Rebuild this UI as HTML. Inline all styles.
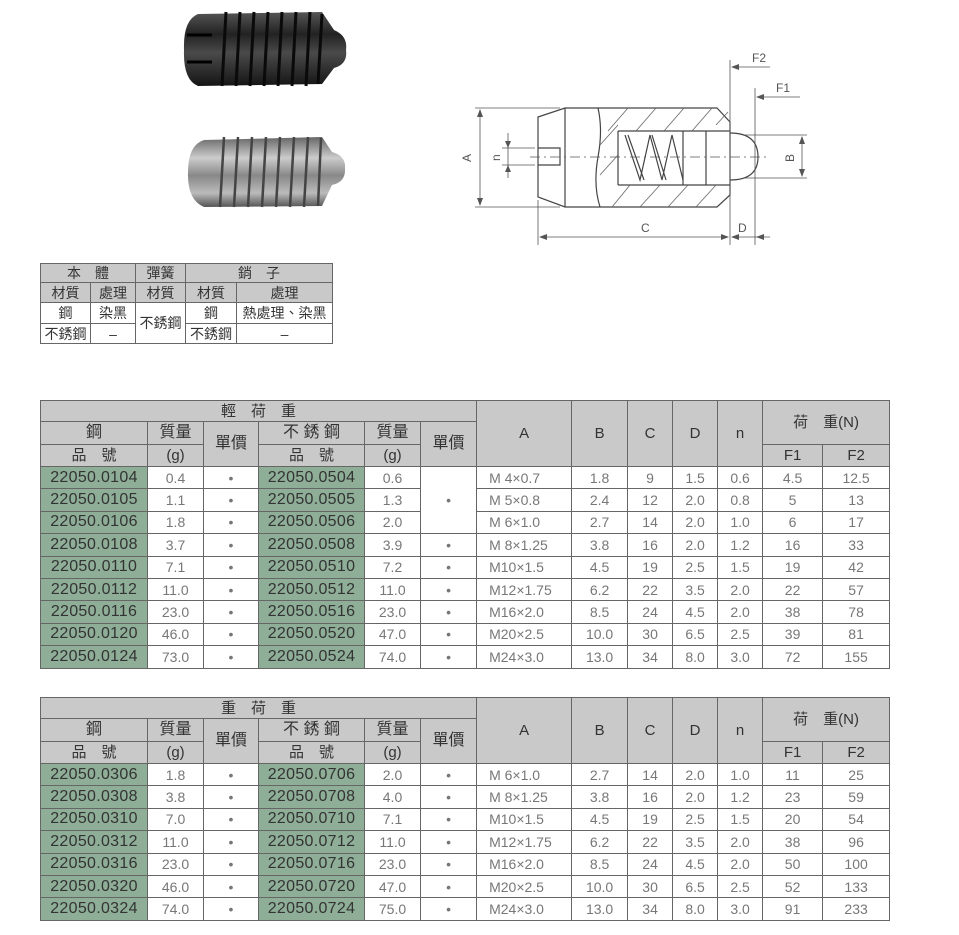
<!DOCTYPE html>
<html><head><meta charset="utf-8"><style>
body{margin:0;background:#fff;width:959px;height:935px;position:relative;overflow:hidden;font-family:"Liberation Sans","Noto Sans CJK TC",sans-serif}
table{border-collapse:collapse;table-layout:fixed;position:absolute}
td{border:1px solid #666;padding:0;text-align:center;white-space:nowrap;overflow:hidden;line-height:1}
.h td{background:#c9c9c9;color:#333}
tr.d{height:22.4px}
.d td{font-size:14px;color:#777}
.d td.g{background:#8fae98;color:#333;font-size:16px;letter-spacing:0.3px}
.m td{font-size:14px;color:#333}
.d td.l{text-align:left;padding-left:12px}
</style></head><body>

<svg style="position:absolute;left:0;top:0" width="959" height="260">
<defs>
<linearGradient id="bk" x1="0" y1="0" x2="0" y2="1"><stop offset="0" stop-color="#555"/><stop offset=".3" stop-color="#222"/><stop offset=".55" stop-color="#4a4a4a"/><stop offset="1" stop-color="#151515"/></linearGradient>
<linearGradient id="sv" x1="0" y1="0" x2="0" y2="1"><stop offset="0" stop-color="#666"/><stop offset=".3" stop-color="#ccc"/><stop offset=".55" stop-color="#888"/><stop offset=".8" stop-color="#bbb"/><stop offset="1" stop-color="#555"/></linearGradient>
</defs>
<path d="M198 14 L322 12 L334 30 Q348 36 346 50 Q348 64 334 68 L322 84 L198 86 Q183 80 184 50 Q183 20 198 14Z" fill="url(#bk)"/>
<g stroke="#0a0a0a" stroke-width="3">
<line x1="226" y1="12" x2="222" y2="86"/><line x1="240" y1="12" x2="236" y2="86"/><line x1="254" y1="12" x2="250" y2="86"/><line x1="268" y1="12" x2="264" y2="86"/><line x1="282" y1="12" x2="278" y2="86"/><line x1="296" y1="12" x2="292" y2="86"/><line x1="310" y1="12" x2="306" y2="86"/><line x1="322" y1="14" x2="318" y2="84"/></g>
<line x1="187" y1="35" x2="212" y2="35" stroke="#000" stroke-width="3"/><line x1="187" y1="62" x2="212" y2="62" stroke="#000" stroke-width="3"/>
<path d="M204 140 L322 137 L332 152 Q346 156 345 168 Q346 182 332 185 L322 206 L204 207 Q187 200 188 172 Q188 145 204 140Z" fill="url(#sv)"/>
<g stroke="#444" stroke-width="2.5">
<line x1="224" y1="137" x2="220" y2="207"/><line x1="238" y1="137" x2="234" y2="207"/><line x1="252" y1="137" x2="248" y2="207"/><line x1="266" y1="137" x2="262" y2="207"/><line x1="280" y1="137" x2="276" y2="207"/><line x1="294" y1="137" x2="290" y2="207"/><line x1="308" y1="137" x2="304" y2="207"/><line x1="321" y1="138" x2="318" y2="206"/></g>

<g fill="none" stroke="#444" stroke-width="1.2">
<path d="M538 117 L565 108 L717 108 L730 122 L730 195 L717 207 L565 207 L538 197 Z"/>
<line x1="565" y1="108" x2="565" y2="207"/>
<path d="M538 148 L560 148 L560 165 L538 165"/>
<path d="M598 108 Q603 130 598 157 Q593 185 600 207"/>
<path d="M618 131 L730 131 M618 185 L730 185 M618 131 L618 185"/>
<path d="M683 131 L683 185 M706 131 L706 185"/>
<path d="M730 133 Q758 133 758 157 Q758 180 730 180"/>
<path d="M625 135 L640 180 L650 135 L662 180 L672 135 L683 180 M628 135 L644 180 M652 135 L666 180"/>
</g>
<g stroke="#666" stroke-width="0.8">
<line x1="612" y1="207" x2="630" y2="185"/><line x1="640" y1="207" x2="660" y2="185"/><line x1="668" y1="207" x2="688" y2="185"/><line x1="696" y1="207" x2="716" y2="185"/>
<line x1="608" y1="131" x2="628" y2="108"/><line x1="636" y1="131" x2="656" y2="108"/><line x1="664" y1="131" x2="684" y2="108"/><line x1="692" y1="131" x2="712" y2="108"/><line x1="716" y1="125" x2="728" y2="112"/>
<line x1="600" y1="175" x2="618" y2="155"/><line x1="600" y1="145" x2="618" y2="125"/>
</g>
<line x1="530" y1="157" x2="770" y2="157" stroke="#555" stroke-width="0.8" stroke-dasharray="10,4,2,4"/>
<g stroke="#555" stroke-width="0.8" fill="none">
<line x1="475" y1="108" x2="560" y2="108"/><line x1="475" y1="207" x2="560" y2="207"/>
<line x1="480" y1="110" x2="480" y2="205"/>
<line x1="502" y1="148" x2="535" y2="148"/><line x1="502" y1="165" x2="535" y2="165"/>
<line x1="508" y1="133" x2="508" y2="178"/>
<line x1="538" y1="200" x2="538" y2="245"/><line x1="730" y1="60" x2="730" y2="245"/><line x1="755" y1="88" x2="755" y2="245"/>
<line x1="540" y1="237" x2="728" y2="237"/><line x1="732" y1="237" x2="770" y2="237"/>
<line x1="732" y1="67" x2="770" y2="67"/><line x1="757" y1="97" x2="800" y2="97"/>
<line x1="745" y1="135" x2="807" y2="135"/><line x1="745" y1="178" x2="807" y2="178"/>
<line x1="802" y1="137" x2="802" y2="176"/>
</g>
<g fill="#555">
<path d="M480 109 l-3 8 h6z"/><path d="M480 206 l-3 -8 h6z"/>
<path d="M508 148 l-3 -7 h6z"/><path d="M508 165 l-3 7 h6z"/>
<path d="M539 237 l8 -3 v6z"/><path d="M729 237 l-8 -3 v6z"/><path d="M731 237 l8 -3 v6z"/><path d="M756 237 l8 -3 v6z"/>
<path d="M731 67 l8 -3 v6z"/><path d="M756 97 l8 -3 v6z"/>
<path d="M802 136 l-3 8 h6z"/><path d="M802 177 l-3 -8 h6z"/>
</g>
<g font-size="12" fill="#555" font-family="Liberation Sans">
<text x="641" y="232">C</text><text x="738" y="232">D</text>
<text x="752" y="62">F2</text><text x="776" y="92">F1</text>
<text transform="translate(471,162) rotate(-90)">A</text>
<text transform="translate(500,161) rotate(-90)">n</text>
<text transform="translate(794,162) rotate(-90)">B</text>
</g>
</svg>

<table class="m" style="left:40px;top:263px;width:292px;border:1.5px solid #555">
<col style="width:50px"><col style="width:45px"><col style="width:50px"><col style="width:51px"><col style="width:96px">
<tr class="h" style="height:19px"><td colspan="2">本　體</td><td>彈簧</td><td colspan="2">銷　子</td></tr>
<tr class="h" style="height:20px"><td>材質</td><td>處理</td><td>材質</td><td>材質</td><td>處理</td></tr>
<tr style="height:21px"><td>鋼</td><td>染黑</td><td rowspan="2">不銹鋼</td><td>鋼</td><td>熱處理、染黑</td></tr>
<tr style="height:20px"><td>不銹鋼</td><td>–</td><td>不銹鋼</td><td>–</td></tr>
</table>

<table style="left:40px;top:400px;width:849px;border:1.5px solid #555">
<col style="width:107px"><col style="width:56px"><col style="width:55px"><col style="width:106px"><col style="width:56px"><col style="width:56px"><col style="width:95px"><col style="width:56px"><col style="width:45px"><col style="width:45px"><col style="width:45px"><col style="width:60px"><col style="width:67px">
<tr class="h" style="height:21px;font-size:15px"><td colspan="6">輕　荷　重</td><td rowspan="3" style="font-size:15px">A</td><td rowspan="3">B</td><td rowspan="3">C</td><td rowspan="3">D</td><td rowspan="3">n</td><td colspan="2" rowspan="2">荷　重(N)</td></tr>
<tr class="h" style="height:23px;font-size:16px"><td>鋼</td><td>質量</td><td rowspan="2">單價</td><td>不 銹 鋼</td><td>質量</td><td rowspan="2">單價</td></tr>
<tr class="h" style="height:22px;font-size:15px"><td>品　號</td><td>(g)</td><td>品　號</td><td>(g)</td><td>F1</td><td>F2</td></tr>
<tr class="d"><td class="g">22050.0104</td><td>0.4</td><td>•</td><td class="g">22050.0504</td><td>0.6</td><td rowspan="3">•</td><td class="l">M 4×0.7</td><td>1.8</td><td>9</td><td>1.5</td><td>0.6</td><td>4.5</td><td>12.5</td></tr>
<tr class="d"><td class="g">22050.0105</td><td>1.1</td><td>•</td><td class="g">22050.0505</td><td>1.3</td><td class="l">M 5×0.8</td><td>2.4</td><td>12</td><td>2.0</td><td>0.8</td><td>5</td><td>13</td></tr>
<tr class="d"><td class="g">22050.0106</td><td>1.8</td><td>•</td><td class="g">22050.0506</td><td>2.0</td><td class="l">M 6×1.0</td><td>2.7</td><td>14</td><td>2.0</td><td>1.0</td><td>6</td><td>17</td></tr>
<tr class="d"><td class="g">22050.0108</td><td>3.7</td><td>•</td><td class="g">22050.0508</td><td>3.9</td><td>•</td><td class="l">M 8×1.25</td><td>3.8</td><td>16</td><td>2.0</td><td>1.2</td><td>16</td><td>33</td></tr>
<tr class="d"><td class="g">22050.0110</td><td>7.1</td><td>•</td><td class="g">22050.0510</td><td>7.2</td><td>•</td><td class="l">M10×1.5</td><td>4.5</td><td>19</td><td>2.5</td><td>1.5</td><td>19</td><td>42</td></tr>
<tr class="d"><td class="g">22050.0112</td><td>11.0</td><td>•</td><td class="g">22050.0512</td><td>11.0</td><td>•</td><td class="l">M12×1.75</td><td>6.2</td><td>22</td><td>3.5</td><td>2.0</td><td>22</td><td>57</td></tr>
<tr class="d"><td class="g">22050.0116</td><td>23.0</td><td>•</td><td class="g">22050.0516</td><td>23.0</td><td>•</td><td class="l">M16×2.0</td><td>8.5</td><td>24</td><td>4.5</td><td>2.0</td><td>38</td><td>78</td></tr>
<tr class="d"><td class="g">22050.0120</td><td>46.0</td><td>•</td><td class="g">22050.0520</td><td>47.0</td><td>•</td><td class="l">M20×2.5</td><td>10.0</td><td>30</td><td>6.5</td><td>2.5</td><td>39</td><td>81</td></tr>
<tr class="d"><td class="g">22050.0124</td><td>73.0</td><td>•</td><td class="g">22050.0524</td><td>74.0</td><td>•</td><td class="l">M24×3.0</td><td>13.0</td><td>34</td><td>8.0</td><td>3.0</td><td>72</td><td>155</td></tr>
</table>

<table style="left:40px;top:697px;width:849px;border:1.5px solid #555">
<col style="width:107px"><col style="width:56px"><col style="width:55px"><col style="width:106px"><col style="width:56px"><col style="width:56px"><col style="width:95px"><col style="width:56px"><col style="width:45px"><col style="width:45px"><col style="width:45px"><col style="width:60px"><col style="width:67px">
<tr class="h" style="height:21px;font-size:15px"><td colspan="6">重　荷　重</td><td rowspan="3">A</td><td rowspan="3">B</td><td rowspan="3">C</td><td rowspan="3">D</td><td rowspan="3">n</td><td colspan="2" rowspan="2">荷　重(N)</td></tr>
<tr class="h" style="height:23px;font-size:16px"><td>鋼</td><td>質量</td><td rowspan="2">單價</td><td>不 銹 鋼</td><td>質量</td><td rowspan="2">單價</td></tr>
<tr class="h" style="height:22px;font-size:15px"><td>品　號</td><td>(g)</td><td>品　號</td><td>(g)</td><td>F1</td><td>F2</td></tr>
<tr class="d"><td class="g">22050.0306</td><td>1.8</td><td>•</td><td class="g">22050.0706</td><td>2.0</td><td>•</td><td class="l">M 6×1.0</td><td>2.7</td><td>14</td><td>2.0</td><td>1.0</td><td>11</td><td>25</td></tr>
<tr class="d"><td class="g">22050.0308</td><td>3.8</td><td>•</td><td class="g">22050.0708</td><td>4.0</td><td>•</td><td class="l">M 8×1.25</td><td>3.8</td><td>16</td><td>2.0</td><td>1.2</td><td>23</td><td>59</td></tr>
<tr class="d"><td class="g">22050.0310</td><td>7.0</td><td>•</td><td class="g">22050.0710</td><td>7.1</td><td>•</td><td class="l">M10×1.5</td><td>4.5</td><td>19</td><td>2.5</td><td>1.5</td><td>20</td><td>54</td></tr>
<tr class="d"><td class="g">22050.0312</td><td>11.0</td><td>•</td><td class="g">22050.0712</td><td>11.0</td><td>•</td><td class="l">M12×1.75</td><td>6.2</td><td>22</td><td>3.5</td><td>2.0</td><td>38</td><td>96</td></tr>
<tr class="d"><td class="g">22050.0316</td><td>23.0</td><td>•</td><td class="g">22050.0716</td><td>23.0</td><td>•</td><td class="l">M16×2.0</td><td>8.5</td><td>24</td><td>4.5</td><td>2.0</td><td>50</td><td>100</td></tr>
<tr class="d"><td class="g">22050.0320</td><td>46.0</td><td>•</td><td class="g">22050.0720</td><td>47.0</td><td>•</td><td class="l">M20×2.5</td><td>10.0</td><td>30</td><td>6.5</td><td>2.5</td><td>52</td><td>133</td></tr>
<tr class="d"><td class="g">22050.0324</td><td>74.0</td><td>•</td><td class="g">22050.0724</td><td>75.0</td><td>•</td><td class="l">M24×3.0</td><td>13.0</td><td>34</td><td>8.0</td><td>3.0</td><td>91</td><td>233</td></tr>
</table>
</body></html>
